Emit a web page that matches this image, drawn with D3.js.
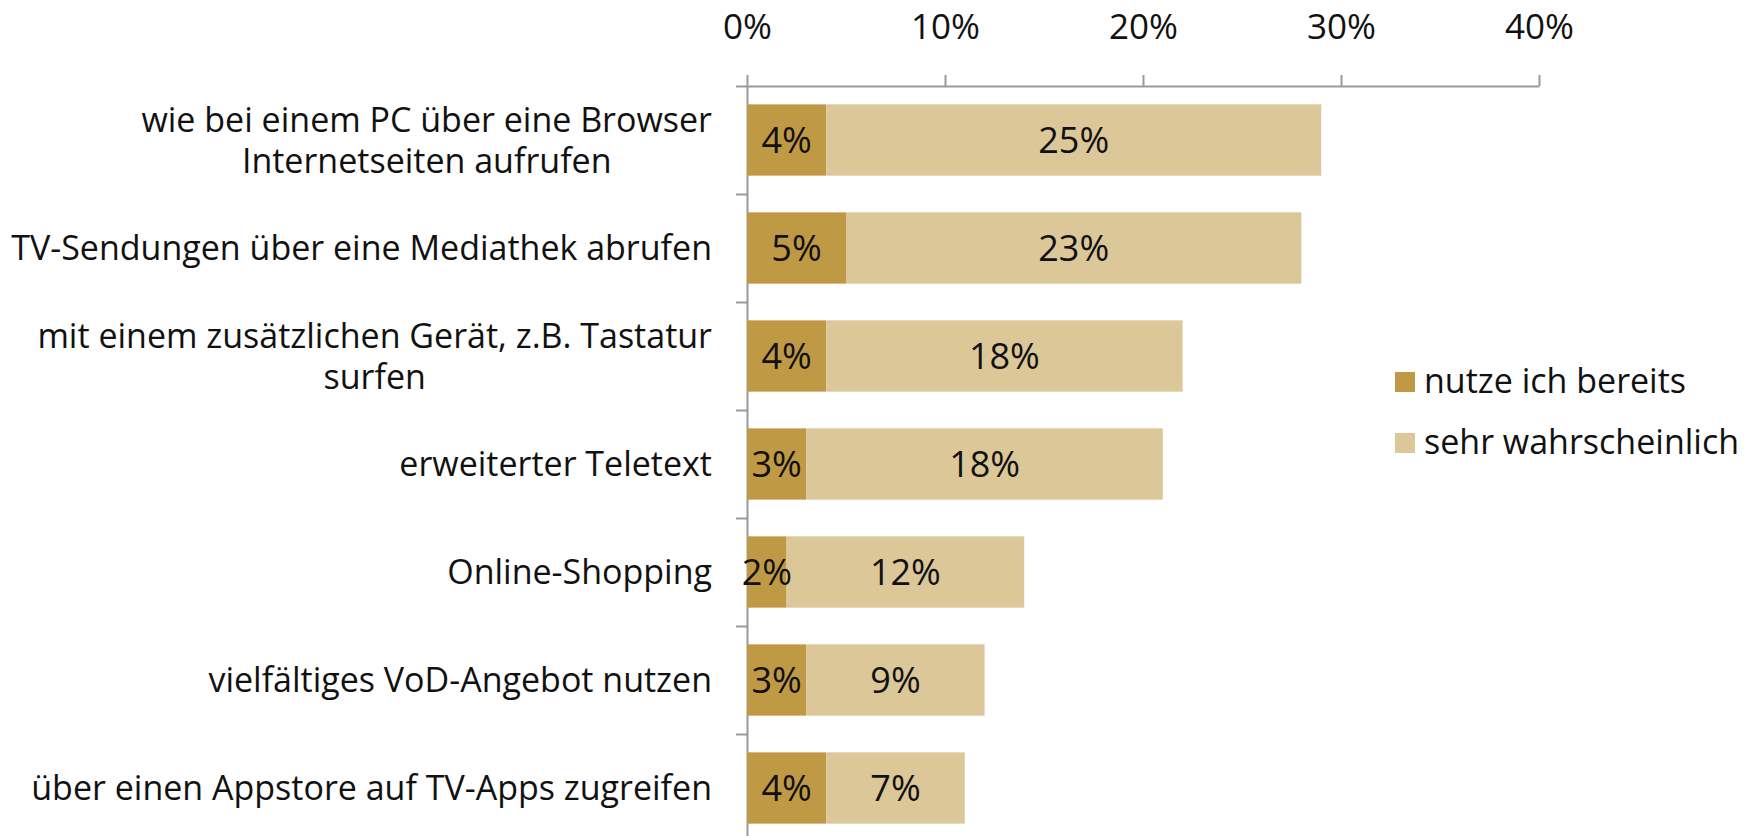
<!DOCTYPE html>
<meta charset="utf-8">
<title>Smart-TV Nutzung</title>
<style>
  body { margin: 0; background: #fff; }
  text { font-family: "Open Sans", sans-serif; fill: #111; }
  .axis path, .axis line { stroke: #9a9a9a; stroke-width: 2px; }
  .axis text { font-size: 35px; fill: #111; }
  .cat { font-size: 34px; }
  .val { font-size: 36px; }
  .legend text { font-size: 34px; }
</style>
<svg width="1752" height="836"></svg>
<script src="https://d3js.org/d3.v7.min.js"></script>
<script>
  var categories = [
    "wie bei einem PC über eine Browser\nInternetseiten aufrufen",
    "TV-Sendungen über eine Mediathek abrufen",
    "mit einem zusätzlichen Gerät, z.B. Tastatur\nsurfen",
    "erweiterter Teletext",
    "Online-Shopping",
    "vielfältiges VoD-Angebot nutzen",
    "über einen Appstore auf TV-Apps zugreifen"
  ];
  var nutzeBereits = [4, 5, 4, 3, 2, 3, 4];
  var sehrWahrscheinlich = [25, 23, 18, 18, 12, 9, 7];
  var seriesNames = ["nutze ich bereits", "sehr wahrscheinlich"];
  var seriesColors = ["#bf9944", "#dcc799"];
  var xTicks = [0, 10, 20, 30, 40];

  var svg = d3.select("svg");

  var x0 = 747, x1 = 1539, yTop = 86, step = 108;

  var x = d3.scaleLinear()
    .domain([0, 40])
    .range([x0, x1]);

  var y = d3.scaleBand()
    .domain(categories)
    .range([yTop, yTop + step * categories.length])
    .paddingInner(0.34)
    .paddingOuter(0.17);

  // y axis: ticks on band boundaries
  var yIdx = d3.scaleLinear()
    .domain([0, categories.length])
    .range([yTop, yTop + step * categories.length]);

  svg.append("g")
    .attr("class", "axis")
    .attr("transform", "translate(" + x0 + ",0)")
    .call(d3.axisLeft(yIdx)
      .tickValues(d3.range(categories.length + 1))
      .tickFormat("")
      .tickSize(11)
      .tickSizeOuter(0));

  // x axis on top
  svg.append("g")
    .attr("class", "axis")
    .attr("transform", "translate(0," + yTop + ")")
    .call(d3.axisTop(x)
      .tickValues(xTicks)
      .tickFormat(d => d + "%")
      .tickSize(11)
      .tickSizeOuter(0)
      .tickPadding(36));

  var rows = categories.map((c, i) => ({
    cat: c,
    segs: [
      { s: 0, start: 0, v: nutzeBereits[i] },
      { s: 1, start: nutzeBereits[i], v: sehrWahrscheinlich[i] }
    ]
  }));

  var row = svg.selectAll(".row")
    .data(rows)
    .enter().append("g")
    .attr("class", "row");

  row.selectAll("rect")
    .data(d => d.segs.map(s => Object.assign({ cat: d.cat }, s)))
    .enter().append("rect")
    .attr("x", d => x(d.start))
    .attr("width", d => x(d.start + d.v) - x(d.start))
    .attr("y", d => y(d.cat))
    .attr("height", y.bandwidth())
    .attr("fill", d => seriesColors[d.s]);

  row.selectAll("text.val")
    .data(d => d.segs.map(s => Object.assign({ cat: d.cat }, s)))
    .enter().append("text")
    .attr("class", "val")
    .attr("x", d => x(d.start + d.v / 2))
    .attr("y", d => y(d.cat) + y.bandwidth() / 2)
    .attr("dy", "0.36em")
    .attr("text-anchor", "middle")
    .text(d => d.v + "%");

  // category labels
  var cat = svg.selectAll(".cat")
    .data(categories)
    .enter().append("text")
    .attr("class", "cat")
    .attr("text-anchor", "end")
    .attr("y", d => y(d) + y.bandwidth() / 2);

  cat.each(function (d) {
    var lines = d.split("\n");
    var t = d3.select(this);
    var lh = 41;
    lines.forEach(function (l, i) {
      t.append("tspan")
        .attr("x", 712)
        .attr("dy", i === 0 ? (0.36 * 34 - (lines.length - 1) * lh / 2) + "px" : lh + "px")
        .attr("text-anchor", lines.length > 1 ? "middle" : "end")
        .text(l);
    });
  });

  // center multi-line labels on the longest line
  cat.each(function (d) {
    var lines = d.split("\n");
    if (lines.length < 2) return;
    var spans = d3.select(this).selectAll("tspan").nodes();
    var w = d3.max(spans, s => s.getComputedTextLength());
    spans.forEach(s => d3.select(s).attr("x", 712 - w / 2));
  });

  // legend
  var legend = svg.append("g")
    .attr("class", "legend")
    .attr("transform", "translate(1395,372)");

  var li = legend.selectAll("g")
    .data(seriesNames)
    .enter().append("g")
    .attr("transform", (d, i) => "translate(0," + i * 61 + ")");

  li.append("rect")
    .attr("width", 20)
    .attr("height", 20)
    .attr("fill", (d, i) => seriesColors[i]);

  li.append("text")
    .attr("x", 29)
    .attr("y", 21)
    .text(d => d);
</script>
